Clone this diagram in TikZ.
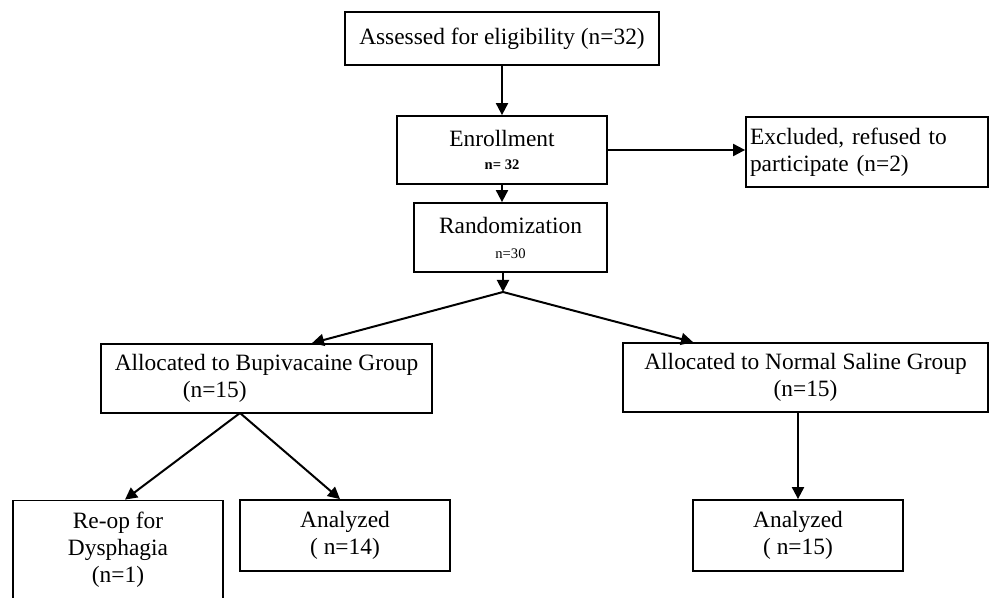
\documentclass[tikz,border=0pt]{standalone}
\usepackage{fontspec}
\setmainfont{Liberation Serif}
\usetikzlibrary{arrows.meta}

\tikzset{
  box/.style={draw, line width=0.9pt, align=center, inner sep=2pt,
    minimum width=105pt, minimum height=34.5pt,
    font=\fontsize{11.7}{13.5}\selectfont},
  flow/.style={line width=1pt, -{Triangle[length=6pt,width=6pt]}}
}
\newcommand{\smalln}[1]{{\fontsize{7.3}{8}\selectfont #1}}

\begin{document}
\begin{tikzpicture}[x=0.5pt, y=-0.5pt]
  \useasboundingbox (0,0) rectangle (990,598);

  %Define nodes
  \node[box, minimum width=157pt, minimum height=26.5pt] (assess) at (502,38.5) {Assessed for eligibility (n=32)};
  \node[box, minimum height=34pt] (enroll) at (502,150) {Enrollment\\[-2pt]\smalln{\bfseries n= 32}};
  \node[box, align=left, text width=117pt, minimum height=35pt] (excl) at (867,152) {Excluded, refused to\\participate (n=2)};
  \node[box, minimum width=96.5pt] (random) at (510.5,237.5) {Randomization\\[-1pt]\smalln{n=30}};
  \node[box, align=left, minimum width=165.5pt] (bupi) at (266.5,378.5) {Allocated to Bupivacaine Group\\\hspace*{34pt}(n=15)};
  \node[box, minimum width=182.5pt] (saline) at (805.5,377.5) {Allocated to Normal Saline Group\\(n=15)};
  \node[box, minimum height=49.5pt] (reop) at (118,550) {Re-op for\\Dysphagia\\(n=1)};
  \node[box, minimum height=35.5pt] (anab) at (345,535.5) {Analyzed\\( n=14)};
  \node[box, minimum height=35.5pt] (anas) at (798,535.5) {Analyzed\\( n=15)};
  \coordinate (split) at (503,292);
  \coordinate (fork) at (240,413);

  % Connect the nodes
  \draw[flow] (assess) -- (enroll);
  \draw[flow] (enroll.east) -- (enroll.east -| excl.west);
  \draw[flow] (enroll.south) -- (enroll.south |- random.north);
  \draw[flow] (random.south -| split) -- (split);
  \draw[flow] (split) -- ([xshift=22.75pt]bupi.north);
  \draw[flow] (split) -- ([xshift=-56.25pt]saline.north);
  \draw[flow] (fork) -- ([xshift=3.5pt]reop.north);
  \draw[flow] (fork) -- ([xshift=-2.5pt]anab.north);
  \draw[flow] (anas.north |- saline.south) -- (anas.north);

\end{tikzpicture}
\end{document}
